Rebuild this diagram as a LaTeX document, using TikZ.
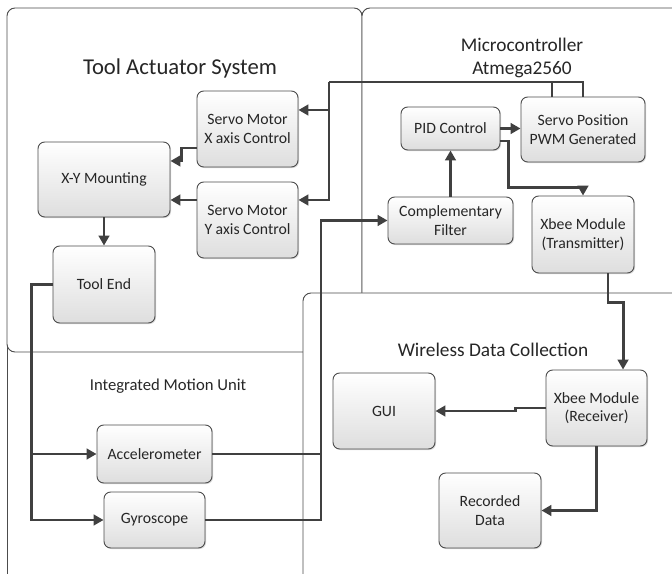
\documentclass[tikz,border=0pt]{standalone}
\usepackage{fontspec}
\setmainfont{Carlito}
\usetikzlibrary{arrows.meta, shadows}

\begin{document}
\begin{tikzpicture}[
      x=0.75pt, y=-0.75pt,
      block/.style={draw=black!70, line width=0.7pt, rounded corners=5pt, align=center,
        top color=white, bottom color=black!13,
        drop shadow={shadow xshift=0.8pt, shadow yshift=-0.8pt, opacity=0.3},
        font=\fontsize{11.8}{14}\selectfont, text=black!85, inner sep=2pt},
      group/.style={draw=black!70, line width=0.7pt, rounded corners=6pt, fill=white},
      grouplabel/.style={text=black!85, align=center},
      wire/.style={draw=black!75, line width=2.2pt},
      arrow/.style={wire, -{Triangle[length=7.5pt, width=8pt]}}
    ]
    \useasboundingbox (0,0) rectangle (672,574);
    \clip (0,0) rectangle (672,574);

    % subsystem frames
    \draw[group, fill=none] (7,340) -- (7,600);
    \draw[group] (7,8) rectangle (362,352);
    \draw[group] (362,8) rectangle (700,330);
    \draw[group] (303,293) rectangle (700,620);

    \node[grouplabel, font=\fontsize{17}{20}\selectfont] (tasLabel) at (180,68) {Tool Actuator System};
    \node[grouplabel, font=\fontsize{14.5}{17.5}\selectfont] (mcuLabel) at (522,58) {Microcontroller\\Atmega2560};
    \node[grouplabel, font=\fontsize{12.5}{15}\selectfont] (imuLabel) at (168,386) {Integrated Motion Unit};
    \node[grouplabel, font=\fontsize{14.5}{17.5}\selectfont] (wdcLabel) at (493,350) {Wireless Data Collection};

    % blocks
    \node[block, minimum width=75.75pt, minimum height=57pt] (servoX) at (247.5,129) {Servo Motor\\X axis Control};
    \node[block, minimum width=99pt, minimum height=56.25pt] (mount) at (104,179.5) {X-Y Mounting};
    \node[block, minimum width=75.75pt, minimum height=57pt] (servoY) at (247.5,220) {Servo Motor\\Y axis Control};
    \node[block, minimum width=76.5pt, minimum height=57.75pt] (toolEnd) at (104,284.5) {Tool End};
    \node[block, minimum width=86.25pt, minimum height=43.5pt] (accel) at (154.5,454) {Accelerometer};
    \node[block, minimum width=75.75pt, minimum height=42pt] (gyro) at (154.5,520) {Gyroscope};
    \node[block, minimum width=74.25pt, minimum height=32.25pt] (pid) at (450.5,128.5) {PID Control};
    \node[block, minimum width=93pt, minimum height=48.75pt] (servoPos) at (583,129.5) {Servo Position\\PWM Generated};
    \node[block, minimum width=93.75pt, minimum height=35.25pt] (compFilter) at (450.5,220.5) {Complementary\\Filter};
    \node[block, minimum width=76.5pt, minimum height=57.75pt] (xbeeTx) at (583,234.5) {Xbee Module\\(Transmitter)};
    \node[block, minimum width=76.5pt, minimum height=57pt] (gui) at (384,411) {GUI};
    \node[block, minimum width=75.75pt, minimum height=57pt] (xbeeRx) at (596.5,408) {Xbee Module\\(Receiver)};
    \node[block, minimum width=76.5pt, minimum height=56.25pt] (recData) at (490,510.5) {Recorded\\Data};

    % servo command bus
    \coordinate (servoBus) at (329,82);
    \draw[wire] (servoPos.north) |- (servoBus);
    \draw[wire] ([xshift=-23.25pt]servoPos.north) -- ++(0,-15);
    \draw[arrow] (servoBus) |- ([yshift=14.25pt]servoX.east);
    \draw[arrow] (servoBus) |- ([yshift=15pt]servoY.east);

    \draw[arrow] ([yshift=-14.25pt]servoX.west) -- ++(-15,0) |- ([yshift=13.9pt]mount.east);
    \draw[arrow] ([yshift=15pt]servoY.west) coordinate (sy) -- (sy -| mount.east);
    \draw[arrow] (mount) -- (toolEnd);

    % motion sensing
    \draw[arrow] (toolEnd.west) -- ++(-21,0) coordinate (imuBus) |- (gyro.west);
    \draw[arrow] (imuBus) |- (accel.west);
    \coordinate (sensorBus) at (321,220.5);
    \draw[arrow] (gyro.east) -| (sensorBus) -- (compFilter.west);
    \draw[wire] (accel.east) -- (accel.east -| sensorBus);

    % controller
    \draw[arrow] (compFilter) -- (pid);
    \draw[arrow] (pid.east) -- (servoPos.west |- pid.east);
    \draw[arrow] ([yshift=-9.4pt]pid.east) -- ++(8,0) |- ([yshift=6pt]xbeeTx.north) -- (xbeeTx.north);

    % wireless link
    \draw[arrow] ([xshift=18.75pt]xbeeTx.south) -- ++(0,29) -| ([xshift=19.9pt]xbeeRx.north);
    \draw[arrow] (xbeeRx.west) -- ++(-30,0) |- (gui.east);
    \draw[arrow] (xbeeRx.south) |- (recData.east);
  \end{tikzpicture}
\end{document}
